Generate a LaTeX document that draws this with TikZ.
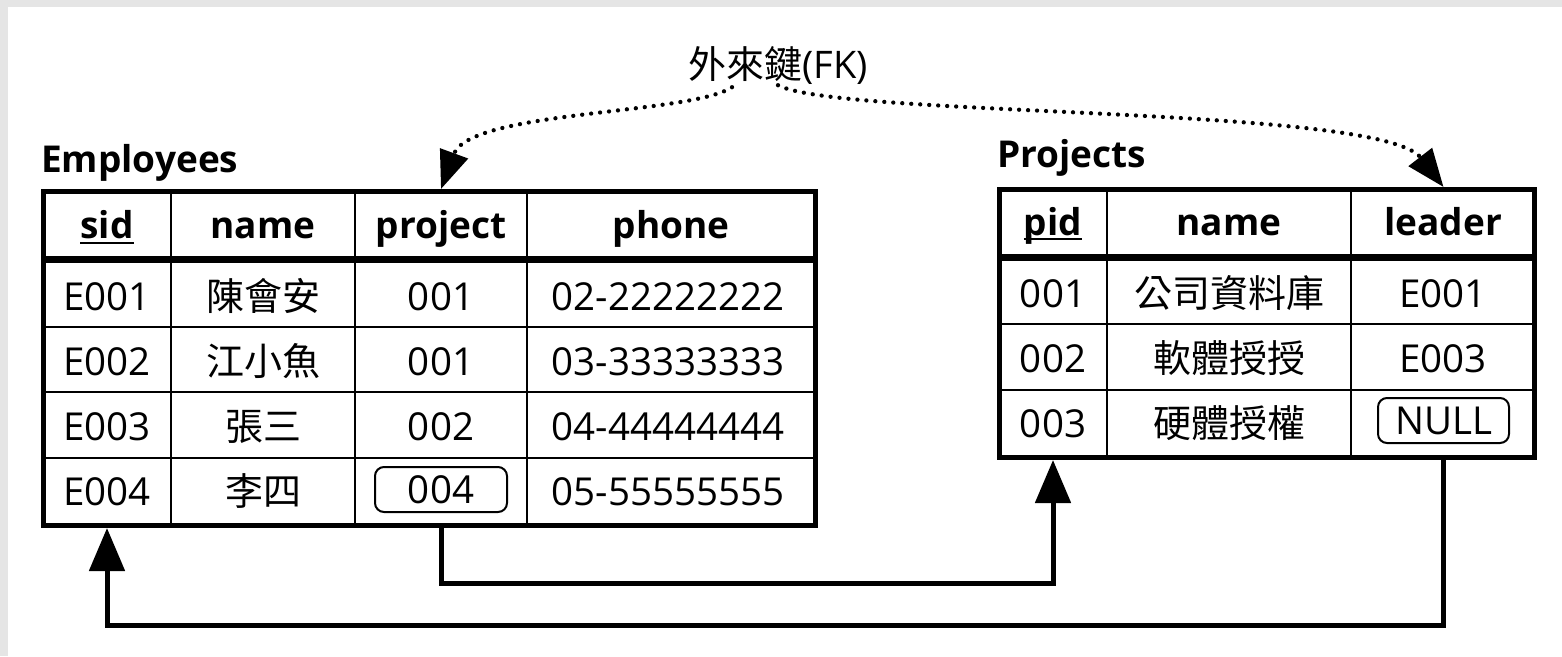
\documentclass[tikz,border=0pt]{standalone}
\usepackage{fontspec}
\setmainfont{Open Sans}
\newfontfamily\cjk{Noto Sans CJK TC}
\usetikzlibrary{arrows.meta}
\definecolor{edgegray}{HTML}{E5E5E5}
\tikzset{
  tbl/.style={draw, line width=5pt, inner sep=0pt},
  gridline/.style={line width=2.5pt},
  headsep/.style={line width=7pt},
  title/.style={inner sep=0pt, anchor=base west, font=\fontsize{37}{40}\selectfont\bfseries},
  head/.style={inner sep=0pt, anchor=base, font=\fontsize{37}{40}\selectfont\bfseries},
  cell/.style={inner sep=0pt, anchor=base, font=\fontsize{38.5}{40}\selectfont},
  zh/.style={inner sep=0pt, anchor=base, font=\fontsize{38}{40}\selectfont\cjk},
  flag/.style={draw, line width=2pt, rounded corners=9pt, minimum width=132pt,
    minimum height=45pt, inner sep=0pt, font=\fontsize{38.5}{40}\selectfont},
  uline/.style={line width=2.5pt},
  conn/.style={line width=5pt, -{Triangle[length=43pt,width=35pt]}},
  fkline/.style={line width=4.3pt, line cap=round, dash pattern=on 0pt off 9pt,
    -{Triangle[length=38pt,width=29pt]}}
}
\begin{document}
\begin{tikzpicture}[x=1pt,y=-1pt]
\useasboundingbox (0,0) rectangle (1562,656);
\fill[white] (0,0) rectangle (1562,656);
\fill[edgegray] (0,0) rectangle (1562,7);
\fill[edgegray] (0,0) rectangle (8,656);

% ---------- Employees ----------
\node[title] (empT) at (41,172) {Employees};
\draw[gridline] (171,191.5) -- (171,525.5);
\draw[gridline] (355,191.5) -- (355,525.5);
\draw[gridline] (527,191.5) -- (527,525.5);
\draw[gridline] (43.5,327) -- (815.5,327);
\draw[gridline] (43.5,392) -- (815.5,392);
\draw[gridline] (43.5,458) -- (815.5,458);
\draw[headsep] (43.5,259.5) -- (815.5,259.5);
\node[tbl, minimum width=772pt, minimum height=334pt] (emp) at (429.5,358.5) {};

\node[head] (eh1) at (107,238) {sid};
\draw[uline] ([yshift=-5pt]eh1.base west) -- ([yshift=-5pt]eh1.base east);
\node[head] (eh2) at (263,238) {name};
\node[head] (eh3) at (441,238) {project};
\node[head] (eh4) at (671,238) {phone};

\node[cell] (e11) at (107,310) {E001};
\node[zh]   (e12) at (263,310) {陳會安};
\node[cell] (e13) at (441,310) {001};
\node[cell] (e14) at (668,310) {02-22222222};

\node[cell] (e21) at (107,375) {E002};
\node[zh]   (e22) at (263,375) {江小魚};
\node[cell] (e23) at (441,375) {001};
\node[cell] (e24) at (668,375) {03-33333333};

\node[cell] (e31) at (107,440) {E003};
\node[zh]   (e32) at (263,440) {張三};
\node[cell] (e33) at (441,440) {002};
\node[cell] (e34) at (668,440) {04-44444444};

\node[cell] (e41) at (107,505) {E004};
\node[zh]   (e42) at (263,505) {李四};
\node[flag] (e43) at (441,489.5) {004};
\node[cell] (e44) at (668,505) {05-55555555};

% ---------- Projects ----------
\node[title] (prjT) at (997,167) {Projects};
\draw[gridline] (1107,189.5) -- (1107,457.5);
\draw[gridline] (1351,189.5) -- (1351,457.5);
\draw[gridline] (999.5,324) -- (1534.5,324);
\draw[gridline] (999.5,390) -- (1534.5,390);
\draw[headsep] (999.5,257) -- (1534.5,257);
\node[tbl, minimum width=535pt, minimum height=268pt] (proj) at (1267,323.5) {};

\node[head] (ph1) at (1053,235) {pid};
\draw[uline] ([yshift=-4pt]ph1.base west) -- ([yshift=-4pt]ph1.base east);
\node[head] (ph2) at (1229,235) {name};
\node[head] (ph3) at (1443,235) {leader};

\node[cell] (p11) at (1053,307) {001};
\node[zh]   (p12) at (1229,307) {公司資料庫};
\node[cell] (p13) at (1443,307) {E001};

\node[cell] (p21) at (1053,372) {002};
\node[zh]   (p22) at (1229,372) {軟體授授};
\node[cell] (p23) at (1443,372) {E003};

\node[cell] (p31) at (1053,437) {003};
\node[zh]   (p32) at (1229,437) {硬體授權};
\node[flag, minimum width=131pt] (p33) at (1443.5,420.5) {NULL};

% ---------- foreign key label and references ----------
\node[inner sep=0pt, anchor=base, font=\fontsize{38}{40}\selectfont] (fk) at (778,78)
  {{\cjk 外來鍵}(FK)};
\draw[fkline] ([xshift=-46pt,yshift=-3pt]fk.south) .. controls (690,115) and (470,110) .. (e43 |- emp.north);
\draw[fkline] ([yshift=-1pt]fk.south) .. controls (840,118) and (1380,105) .. (p33 |- proj.north);

\draw[conn] (e43 |- emp.south) -- ++(0,55) -| (p31 |- proj.south);
\draw[conn] (p33 |- proj.south) -- ++(0,165) -| (e41 |- emp.south);
\end{tikzpicture}
\end{document}
